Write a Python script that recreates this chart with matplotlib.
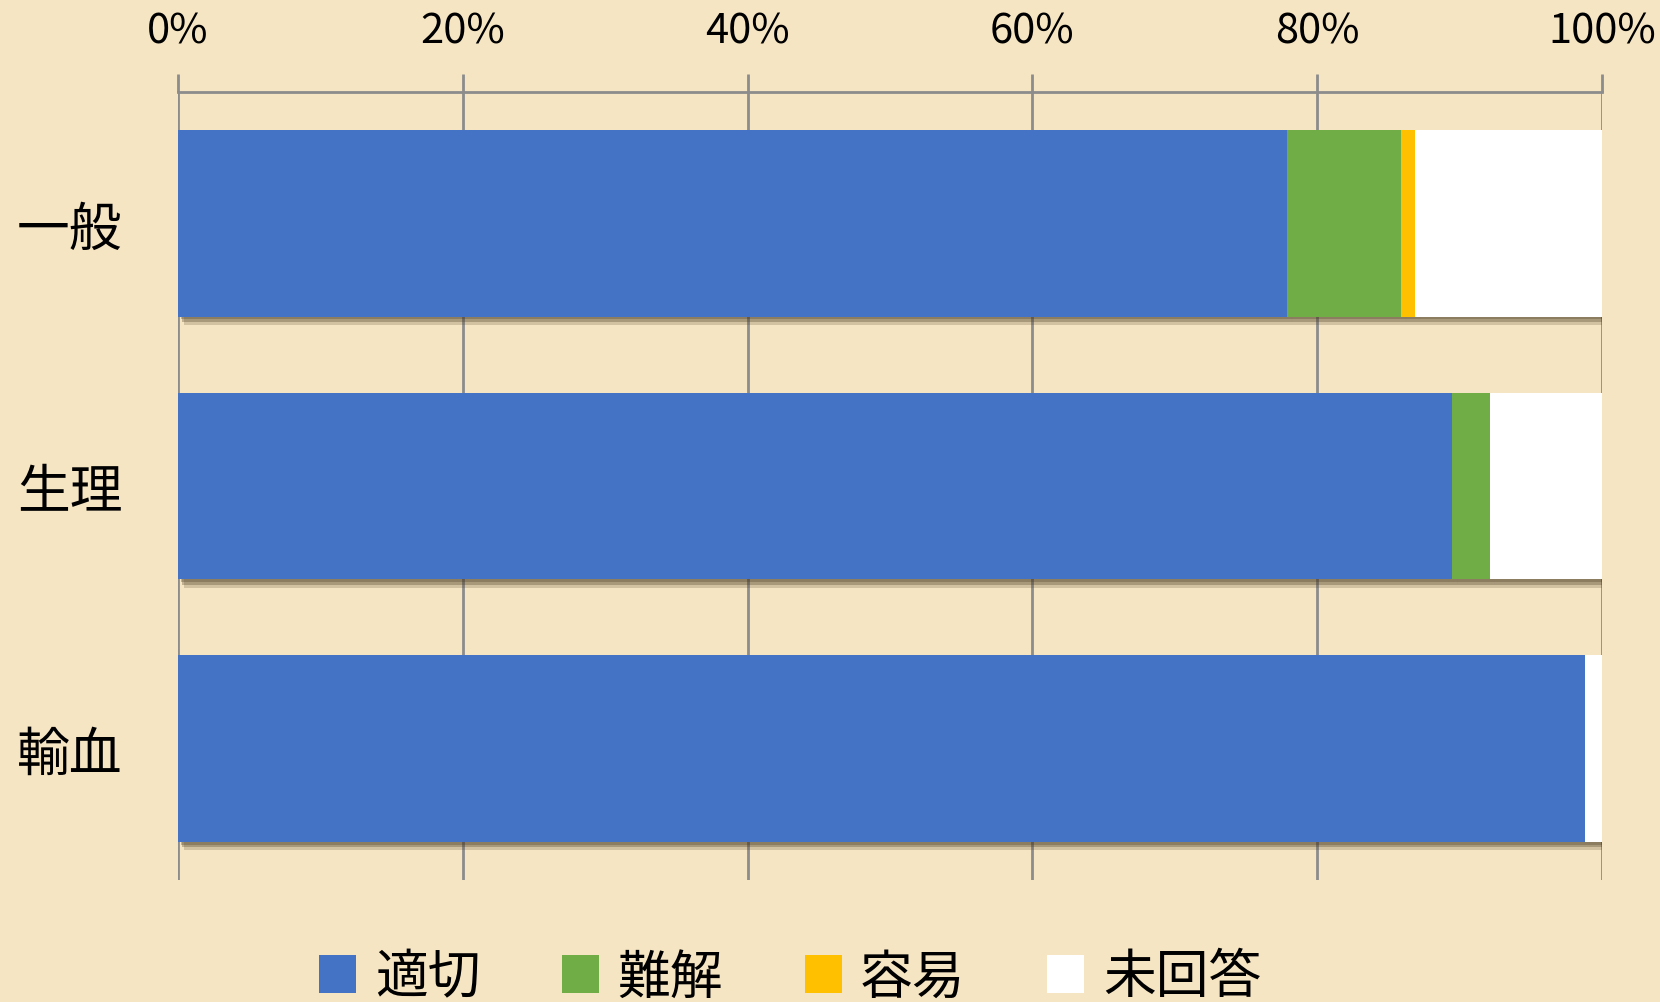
import numpy as np
import matplotlib
matplotlib.use('Agg')
import matplotlib.pyplot as plt
import matplotlib.patheffects as pe
from matplotlib.ticker import PercentFormatter

plt.rcParams['font.family'] = ['Noto Sans CJK JP', 'DejaVu Sans']

# datos (porcentajes por categoria)
categorias = ['一般', '生理', '輸血']
series = ['適切', '難解', '容易', '未回答']
tekisetsu = [77.9, 89.5, 98.8]
nankai = [8.0, 2.6, 0.0]
youi = [1.0, 0.0, 0.0]
mikaitou = [13.1, 7.9, 1.2]
colores = ['#4472C4', '#70AD47', '#FFC000', '#FFFFFF']
fondo = '#F5E5C3'

valores = [tekisetsu, nankai, youi, mikaitou]

fig = plt.figure(figsize=(16.6, 10.03), dpi=100, facecolor=fondo)
ax = fig.add_axes([178 / 1660, 1 - 881 / 1003, (1602 - 178) / 1660, (881 - 93) / 1003])
ax.set_facecolor(fondo)

y = np.arange(len(categorias))
izquierda = np.zeros(len(categorias))
# sombra difusa debajo de las barras
sombra = [pe.SimplePatchShadow(offset=(2, -2), shadow_rgbFace='#4a3a22', alpha=0.3),
          pe.SimplePatchShadow(offset=(3, -4), shadow_rgbFace='#4a3a22', alpha=0.3),
          pe.SimplePatchShadow(offset=(4, -6), shadow_rgbFace='#4a3a22', alpha=0.2),
          pe.Normal()]
for nombre, vals, col in zip(series, valores, colores):
    vals = np.array(vals)
    barras = ax.barh(y, vals, left=izquierda, height=0.71, color=col, label=nombre, zorder=3)
    for b in barras:
        b.set_path_effects(sombra)
    izquierda += vals

ax.set_xlim(0, 100)
ax.set_ylim(2.5, -0.5)
ax.set_yticks(y)
ax.set_yticklabels(categorias, fontsize=38)
ax.set_xticks(np.arange(0, 101, 20))
ax.xaxis.set_major_formatter(PercentFormatter(decimals=0))
ax.xaxis.tick_top()
ax.tick_params(axis='x', labelsize=30, length=13, width=2, color='#8c8c8c', pad=16, direction='out')
ax.tick_params(axis='y', length=0, pad=40)
ax.grid(axis='x', color='#8c8c8c', linewidth=2, zorder=0)
ax.set_axisbelow(True)
for s in ['left', 'right', 'bottom']:
    ax.spines[s].set_visible(False)
ax.spines['top'].set_color('#8c8c8c')
ax.spines['top'].set_linewidth(2)

leg = fig.legend(loc='center', bbox_to_anchor=(0.476, 1 - 978 / 1003), ncol=4, frameon=False,
                 fontsize=38, handlelength=0.7, handleheight=0.75, handletextpad=0.35,
                 columnspacing=1.55)
for h in leg.legend_handles:
    h.set_path_effects([])

plt.savefig('out.png', dpi=100, facecolor=fondo)
